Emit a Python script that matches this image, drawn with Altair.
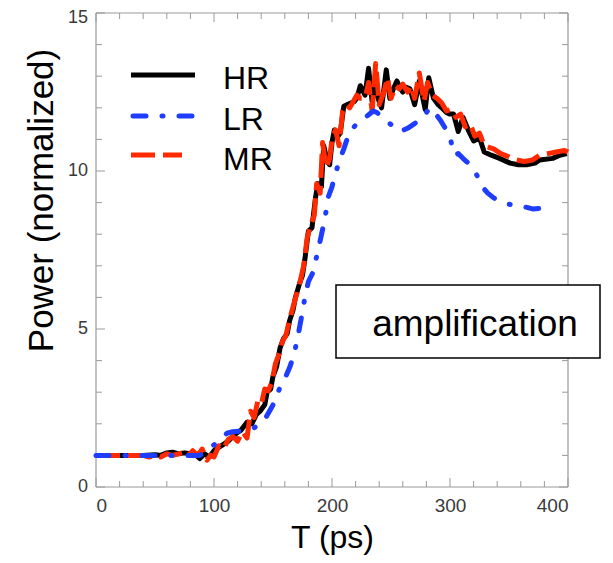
import altair as alt
import pandas as pd

# ---- data ----
hr_t = [0, 10, 20, 30, 40, 50, 55, 60, 65, 70, 75, 80, 85, 88, 92, 96, 100, 104, 108, 112, 116, 119, 123, 128,
        132, 136, 139, 143, 145, 148, 150, 153, 156, 159, 162, 164, 167, 169, 173, 175, 177, 180, 183, 186, 188,
        191, 193, 196, 198, 200, 202, 205, 207, 210, 213, 216, 219, 221, 224, 228, 231, 234, 236, 239, 242, 246,
        249, 252, 255, 258, 260, 263, 266, 270, 274, 279, 282, 286, 290, 293, 297, 300, 303, 307, 311, 316, 320,
        325, 329, 335, 342, 351, 358, 365, 372, 376, 387, 393, 399]
hr_p = [1.0, 1.0, 1.0, 1.0, 1.0, 1.02, 1.0, 1.08, 1.1, 1.05, 1.08, 1.05, 1.0, 0.9, 1.05, 0.95, 1.15, 1.25, 1.35,
        1.45, 1.6, 1.7, 1.8, 2.05, 2.0, 2.3, 2.4, 2.6, 3.0, 3.1, 3.5, 3.8, 4.4, 4.7, 4.85, 5.25, 5.6, 6.0, 6.5,
        6.7, 7.2, 8.1, 8.2, 9.15, 9.6, 9.5, 10.8, 10.3, 10.2, 10.9, 11.3, 11.1, 11.2, 12.05, 12.1, 12.15, 12.2,
        12.3, 12.7, 12.4, 13.25, 12.2, 12.85, 12.3, 12.0, 13.2, 12.3, 12.6, 12.85, 12.6, 12.5, 12.65, 12.6, 12.1,
        12.85, 11.95, 12.95, 12.3, 12.1, 12.0, 11.85, 11.8, 11.8, 11.25, 11.7, 11.25, 10.95, 11.05, 10.6, 10.5,
        10.4, 10.25, 10.2, 10.2, 10.25, 10.35, 10.4, 10.5, 10.55]

mr_t = [0, 20, 40, 45, 50, 55, 60, 65, 70, 75, 78, 82, 86, 90, 94, 97, 100, 104, 108, 112, 116, 120, 124, 128,
        131, 134, 137, 140, 143, 146, 149, 152, 155, 158, 161, 164, 167, 170, 173, 176, 179, 182, 185, 187, 190,
        192, 195, 198, 200, 203, 206, 209, 212, 215, 218, 221, 224, 228, 231, 234, 237, 240, 244, 247, 250, 254,
        257, 260, 264, 267, 270, 274, 278, 281, 285, 289, 293, 297, 301, 305, 309, 313, 317, 321, 325, 329, 333,
        337, 343, 350, 356, 363, 370, 376, 383, 390, 397, 400]
mr_p = [1.0, 1.0, 1.0, 0.95, 1.0, 0.95, 1.05, 1.0, 1.05, 1.1, 1.0, 1.15, 1.0, 1.2, 0.85, 1.0, 0.95, 1.3, 1.2,
        1.5, 1.6, 1.45, 1.75, 1.55, 2.4, 2.2, 2.7, 2.6, 3.1, 3.05, 3.3, 3.9, 4.2, 4.6, 4.8, 5.3, 5.7, 6.1, 6.5,
        7.0, 7.9, 8.3, 8.6, 9.6, 9.3, 10.9, 10.1, 10.4, 11.0, 11.3, 10.8, 11.9, 12.1, 12.0, 12.2, 12.4, 12.3,
        12.3, 12.8, 11.9, 13.4, 12.1, 12.5, 12.95, 12.3, 12.7, 12.6, 12.75, 12.5, 12.7, 12.3, 13.1, 12.2, 12.8,
        12.4, 12.3, 12.15, 11.9, 11.95, 11.7, 11.8, 11.4, 11.5, 11.1, 11.2, 10.8, 10.75, 10.7, 10.55, 10.45,
        10.35, 10.3, 10.35, 10.5, 10.55, 10.6, 10.65, 10.6]

lr_t = [0, 20, 40, 60, 80, 88, 94, 99, 105, 111, 116, 122, 128, 133, 137, 141, 144, 147, 150, 153, 156, 159, 162,
        164, 167, 169, 171, 173, 175, 177, 180, 184, 187, 190, 194, 197, 200, 202, 206, 210, 215, 220, 224, 230,
        235, 238, 243, 249, 254, 258, 264, 270, 277, 283, 288, 292, 296, 300, 304, 307, 311, 314, 317, 320, 323,
        328, 332, 337, 342, 348, 354, 359, 365, 370, 377, 385]
lr_p = [1.0, 1.0, 1.0, 1.0, 1.0, 1.0, 1.15, 1.3, 1.5, 1.7, 1.75, 1.77, 1.8, 1.85, 1.95, 2.05, 2.2, 2.4, 2.6, 2.9,
        3.15, 3.35, 3.6, 3.77, 4.1, 4.4, 4.75, 5.15, 5.55, 6.0, 6.5, 6.8, 7.3, 7.8, 8.5, 9.2, 9.5, 9.8, 10.3, 10.7,
        11.25, 11.45, 11.6, 11.75, 11.9, 11.85, 11.7, 11.5, 11.35, 11.25, 11.35, 11.5, 11.7, 12.0, 11.8, 11.6,
        11.35, 11.05, 10.5, 10.55, 10.4, 10.3, 10.2, 10.05, 9.85, 9.47, 9.3, 9.15, 9.05, 8.96, 8.92, 8.9, 8.85,
        8.8, 8.82, 8.83]

series_names = ["HR", "LR", "MR"]
annotation = "amplification"
x_label_values = [0, 100, 200, 300, 400]
y_label_values = [0, 5, 10]
y_top_label = [15]
x_major = [0, 100, 200, 300, 400]
x_minor = [20, 40, 60, 80, 120, 140, 160, 180, 220, 240, 260, 280, 320, 340, 360, 380]
y_major = [0, 5, 10, 15]
y_minor = [1, 2, 3, 4, 6, 7, 8, 9, 11, 12, 13, 14]

# ---- layout ----
W, H = 472, 474
FONT = "Liberation Sans"
GRAY = "#9a9a9a"
LABEL = "#3a3a3a"
BLACK = "#000000"
BLUE = "#1f3dff"
RED = "#ff2a00"

xs = alt.Scale(domain=[0, 400], nice=False, zero=False)
ys = alt.Scale(domain=[0, 15], nice=False, zero=False)

df_hr = pd.DataFrame({"T": hr_t, "P": hr_p})
df_mr = pd.DataFrame({"T": mr_t, "P": mr_p})
df_lr = pd.DataFrame({"T": lr_t, "P": lr_p})

x_axis = alt.Axis(values=x_label_values, ticks=False, grid=False, domain=False, labelFontSize=19,
                  labelColor=LABEL, labelPadding=9, labelFont=FONT, title="T (ps)", titleFont=FONT,
                  titleFontSize=32, titleFontWeight="normal", titleColor=BLACK, titleY=60,
                  titleBaseline="alphabetic")
y_axis = alt.Axis(ticks=False, grid=False, domain=False, labels=False, title="Power (normalized)",
                  titleFont=FONT, titleFontSize=35, titleFontWeight="normal", titleColor=BLACK,
                  titleX=-44, titleY=187, titleAlign="center", titleBaseline="alphabetic", titleAngle=270)


def tick_layer(vals, axis, length, side):
    d = pd.DataFrame({"v": vals})
    base = alt.Chart(d).mark_rule(color=GRAY, strokeWidth=1)
    if axis == "x":
        if side == "bottom":
            y, y2 = H, H - length
        else:
            y, y2 = 0, length
        return base.encode(x=alt.X("v:Q", scale=xs, axis=x_axis), y=alt.value(y), y2=alt.value(y2))
    else:
        if side == "left":
            x, x2 = 0, length
        else:
            x, x2 = W, W - length
        return base.encode(y=alt.Y("v:Q", scale=ys, axis=y_axis), x=alt.value(x), x2=alt.value(x2))


ticks = []
for side in ["bottom", "top"]:
    ticks.append(tick_layer(x_major, "x", 9, side))
    ticks.append(tick_layer(x_minor, "x", 6, side))
for side in ["left", "right"]:
    ticks.append(tick_layer(y_major, "y", 9, side))
    ticks.append(tick_layer(y_minor, "y", 6, side))

# y tick labels as text (top one nudged so it stays inside the page)
ylab = []
for vals, dy in [(y_label_values, 0), (y_top_label, 5)]:
    d = pd.DataFrame({"v": vals})
    ylab.append(alt.Chart(d).mark_text(font=FONT, fontSize=18, color=LABEL, align="right",
                                       baseline="middle", dy=dy).encode(
        y=alt.Y("v:Q", scale=ys, axis=y_axis), x=alt.value(-8), text="v:Q"))

one = pd.DataFrame({"a": [0]})
frame = [
    alt.Chart(one).mark_rule(color=GRAY, strokeWidth=1.2).encode(x=alt.value(0), x2=alt.value(W), y=alt.value(H)),
    alt.Chart(one).mark_rule(color=GRAY, strokeWidth=1.2).encode(x=alt.value(0), x2=alt.value(W), y=alt.value(0)),
    alt.Chart(one).mark_rule(color=GRAY, strokeWidth=1.2).encode(x=alt.value(0), y=alt.value(0), y2=alt.value(H)),
    alt.Chart(one).mark_rule(color=GRAY, strokeWidth=1.2).encode(x=alt.value(W), y=alt.value(0), y2=alt.value(H)),
]


def series_line(df, **mk):
    return alt.Chart(df).mark_line(strokeWidth=5, strokeJoin="round", **mk).encode(
        x=alt.X("T:Q", scale=xs, axis=x_axis), y=alt.Y("P:Q", scale=ys, axis=y_axis))


line_hr = series_line(df_hr, color=BLACK)
line_mr = series_line(df_mr, color=RED, strokeDash=[24, 8])
line_lr = series_line(df_lr, color=BLUE, strokeCap="round", strokeDash=[13, 16, 1, 16])

# legend
leg_rows = [(62, 76, BLACK, None, 99, "butt"), (103, 117, BLUE, [13, 16, 1, 16], 97, "round"),
            (142, 157, RED, [24, 8], 86, "butt")]
legend = []
for name, (ly, ty, col, dash, xend, cap) in zip(series_names, leg_rows):
    dl = pd.DataFrame({"label": [name]})
    kw = dict(color=col, strokeWidth=5, strokeCap=cap)
    if dash is not None:
        kw["strokeDash"] = dash
    legend.append(alt.Chart(dl).mark_rule(**kw).encode(
        x=alt.value(37 if cap == "round" else 35), x2=alt.value(xend), y=alt.value(ly)))
    legend.append(alt.Chart(dl).mark_text(font=FONT, fontSize=32, align="left", baseline="alphabetic",
                                          color=BLACK).encode(
        x=alt.value(127), y=alt.value(ty), text="label:N"))

# annotation box
da = pd.DataFrame({"label": [annotation]})
box = alt.Chart(da).mark_rect(fill="white", stroke=BLACK, strokeWidth=1.5).encode(
    x=alt.value(240), x2=alt.value(504), y=alt.value(272), y2=alt.value(345))
box_text = alt.Chart(da).mark_text(font=FONT, fontSize=37, align="center", baseline="alphabetic",
                                   color=BLACK).encode(
    x=alt.value(379), y=alt.value(323), text="label:N")

chart = alt.layer(
    *ticks, *frame, *ylab, line_hr, line_mr, line_lr, *legend, box, box_text
).properties(
    width=W, height=H,
    autosize=alt.AutoSizeParams(type="none"),
    padding={"left": 88, "top": 5, "right": 37, "bottom": 68},
).configure_view(stroke=None)

chart.save("out.html", embed_options={"renderer": "svg", "actions": False})
